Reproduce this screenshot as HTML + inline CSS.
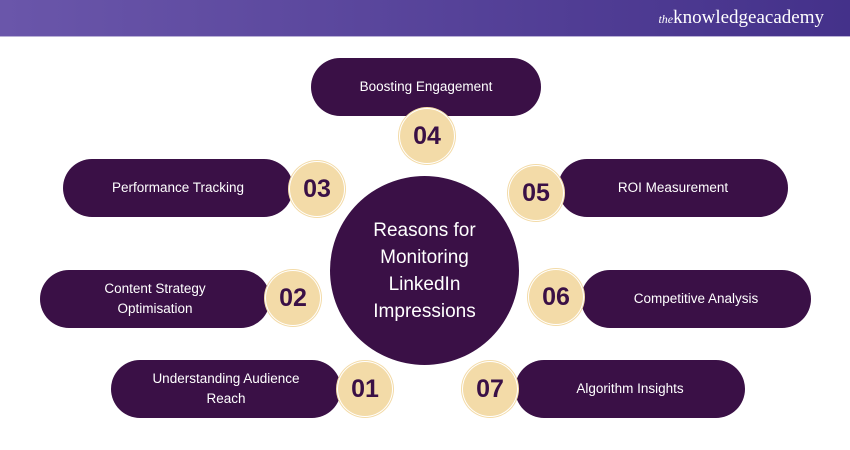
<!DOCTYPE html>
<html><head><meta charset="utf-8"><style>
body{margin:0;width:850px;height:450px;background:#fff;position:relative;overflow:hidden;font-family:"Liberation Sans",sans-serif}
.hdr{position:absolute;left:0;top:0;width:850px;height:36px;background:linear-gradient(90deg,#6a56aa,#44318a);border-bottom:1px solid #b9b0d6}
.logo{position:absolute;right:26px;top:7px;color:#fff;font-family:"Liberation Serif",serif;font-size:19px}
.logo i{font-size:12px}
.pill{position:absolute;width:230px;height:58px;border-radius:29px;background:#3a1046;color:#fff;font-size:13.5px;display:flex;align-items:center;justify-content:center;text-align:center;line-height:20px}
.num{position:absolute;width:54px;height:54px;border-radius:50%;background:#f3dba8;box-shadow:0 0 0 1px #fff,0 0 0 2px #f3dba8;color:#3a1046;font-weight:bold;font-size:25px;display:flex;align-items:center;justify-content:center}
.c{position:absolute;left:330px;top:176px;width:189px;height:189px;border-radius:50%;background:#3a1046;color:#fff;font-size:19px;line-height:27px;display:flex;align-items:center;justify-content:center;text-align:center}
</style></head><body>
<div class="hdr"><div class="logo"><i>the</i>knowledgeacademy</div></div>
<div class="c">Reasons for<br>Monitoring<br>LinkedIn<br>Impressions</div>
<div class="pill" style="left:311px;top:58px">Boosting Engagement</div>
<div class="num" style="left:400px;top:109px">04</div>
<div class="pill" style="left:63px;top:159px">Performance Tracking</div>
<div class="num" style="left:290px;top:162px">03</div>
<div class="pill" style="left:558px;top:159px">ROI Measurement</div>
<div class="num" style="left:509px;top:166px">05</div>
<div class="pill" style="left:40px;top:270px;padding:0 30px;box-sizing:border-box">Content Strategy<br>Optimisation</div>
<div class="num" style="left:266px;top:271px">02</div>
<div class="pill" style="left:581px;top:270px">Competitive Analysis</div>
<div class="num" style="left:529px;top:270px">06</div>
<div class="pill" style="left:111px;top:360px;padding:0 20px;box-sizing:border-box">Understanding Audience<br>Reach</div>
<div class="num" style="left:338px;top:362px">01</div>
<div class="pill" style="left:515px;top:360px">Algorithm Insights</div>
<div class="num" style="left:463px;top:362px">07</div>
</body></html>
